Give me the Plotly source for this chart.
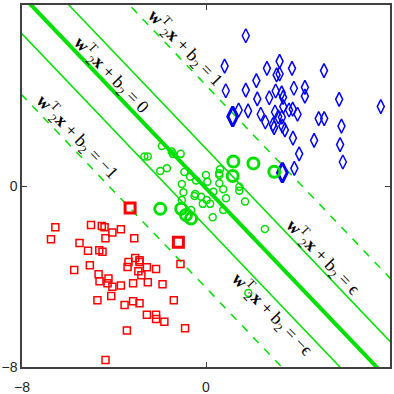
import plotly.graph_objects as go

# class 1 (red squares)
red_x = [-6.55, -5.0, -4.53, -4.41, -3.70, -6.74, -5.50, -4.37, -4.07, -3.12,
         -5.13, -4.64, -4.50, -5.05, -5.73, -3.37, -3.41, -3.08, -2.89, -2.89,
         -2.94, -2.81, -2.57, -2.17, -1.11, -4.67, -4.63, -4.24, -4.28, -4.07,
         -3.70, -3.17, -2.53, -1.89, -4.12, -4.72, -3.54, -3.17, -2.89, -1.40,
         -2.57, -2.17, -2.17, -1.81, -3.44, -0.91, -4.37]
red_y = [-1.82, -1.72, -1.77, -1.82, -1.91, -2.35, -2.52, -2.31, -2.06, -2.31,
         -2.86, -2.84, -2.91, -3.50, -3.71, -3.36, -3.58, -3.18, -3.36, -3.28,
         -3.77, -3.95, -3.59, -3.67, -3.45, -3.90, -4.21, -4.09, -4.30, -4.45,
         -4.40, -4.30, -4.25, -4.34, -4.86, -5.05, -5.26, -5.09, -5.18, -5.05,
         -5.69, -5.69, -5.88, -6.00, -6.39, -6.29, -7.69]
red_sv_x = [-3.30, -1.20]
red_sv_y = [-0.97, -2.49]

# class 2 (blue diamonds)
blue_x = [1.73, 0.81, 2.65, 3.20, 3.74, 3.07, 3.20, 5.13, 2.19, 0.86,
          1.73, 3.82, 4.30, 3.03, 3.29, 3.35, 2.23, 2.75, 4.30, 5.79,
          7.60, 1.42, 1.83, 2.38, 3.00, 3.36, 3.61, 3.77, 3.98, 3.14,
          3.30, 2.58, 2.91, 2.96, 3.32, 3.43, 4.90, 5.14, 5.89, 3.78,
          4.70, 5.83, 4.05, 5.95, 3.84]
blue_y = [6.64, 5.30, 5.20, 5.51, 5.20, 4.91, 4.95, 5.10, 4.66, 4.21,
          4.24, 4.32, 4.36, 4.20, 4.12, 3.92, 3.85, 3.90, 3.97, 3.83,
          3.51, 3.36, 3.32, 3.17, 3.27, 3.51, 3.36, 3.40, 3.17, 3.06,
          3.04, 2.83, 2.71, 2.58, 2.65, 2.48, 2.98, 2.98, 2.65, 2.12,
          2.02, 1.83, 1.42, 1.06, 0.78]
blue_sv_x = [1.16, 3.32]
blue_sv_y = [3.07, 0.59]

# class 3 (green circles)
green_x = [-2.68, -2.53, -1.92, -1.49, -1.44, -1.10, -1.99, -1.70, -0.94, -0.69,
           -0.43, 0.00, 0.06, -1.05, -0.98, -0.47, -0.50, -0.21, 0.03, -1.05,
           -0.14, 0.18, 0.29, -0.65, 0.61, 0.58, 0.58, 0.75, 1.45, 1.45,
           0.87, 0.32, 1.70, 0.75, 2.56, 0.57, 1.84]
green_y = [1.30, 1.30, 1.77, 1.52, 1.42, 1.42, 0.66, 0.78, 0.62, 0.41,
           0.24, 0.49, 0.19, 0.09, -0.28, -0.35, -0.44, -0.47, -0.62, -0.62,
           -0.79, -0.79, -1.38, -1.06, 0.74, 0.49, 0.12, -0.14, -0.03, -0.21,
           -0.54, -0.25, -0.69, -1.06, -1.90, 0.56, -4.73]
green_sv_x = [-1.99, -1.08, -0.87, -0.65, 1.19, 2.06, 2.97, 1.16]
green_sv_y = [-1.01, -1.01, -1.28, -1.44, 1.08, 1.00, 0.63, 0.44]

# lines y = slope*x + c
slope = -1.065
intercepts = [-4.50, -1.80, -0.10, 1.65, 4.45]
line_kind = ["dash", "solid", "thick", "solid", "dash"]

label_x = [-5.6, 2.87, -4.12, 5.13, -0.9]
label_y = [2.17, -5.65, 4.91, -3.14, 6.1]
label_rhs = ["−1", "−ϵ", "0", "ϵ", "1"]

GREEN = "#00E000"
fig = go.Figure()

xs = [-9, 9]
for c, kind in zip(intercepts, line_kind):
    ys = [slope * x + c for x in xs]
    if kind == "thick":
        ln = dict(color=GREEN, width=4)
    elif kind == "dash":
        ln = dict(color=GREEN, width=1.5, dash="8px,8px")
    else:
        ln = dict(color=GREEN, width=1.5)
    fig.add_trace(go.Scatter(x=xs, y=ys, mode="lines", line=ln, hoverinfo="skip"))

fig.add_trace(go.Scatter(x=red_x, y=red_y, mode="markers",
                         marker=dict(symbol="square-open", size=7, color="#FF0000", line=dict(width=1.5))))
fig.add_trace(go.Scatter(x=red_sv_x, y=red_sv_y, mode="markers",
                         marker=dict(symbol="square-open", size=10, color="#FF0000", line=dict(width=3))))
fig.add_trace(go.Scatter(x=blue_x, y=blue_y, mode="markers",
                         marker=dict(symbol="diamond-tall-open", size=10, color="#0000FF", line=dict(width=1.5))))
fig.add_trace(go.Scatter(x=blue_sv_x, y=blue_sv_y, mode="markers",
                         marker=dict(symbol="diamond-tall-open", size=14, color="#0000FF", line=dict(width=3))))
fig.add_trace(go.Scatter(x=green_x, y=green_y, mode="markers",
                         marker=dict(symbol="circle-open", size=7, color=GREEN, line=dict(width=1.5))))
fig.add_trace(go.Scatter(x=green_sv_x, y=green_sv_y, mode="markers",
                         marker=dict(symbol="circle-open", size=11, color=GREEN, line=dict(width=3))))

for lx, ly, rhs in zip(label_x, label_y, label_rhs):
    fig.add_annotation(x=lx, y=ly, showarrow=False, textangle=46,
                       text="<b>w</b><sup>T</sup><sub>2</sub><b>x</b> + b<sub>2</sub> = " + rhs,
                       font=dict(family="Liberation Serif", size=18, color="black"))

axis = dict(range=[-8, 8], tickvals=[-8, 0, 8], ticks="inside", ticklen=5,
            showgrid=False, zeroline=False, showline=True, mirror="ticks",
            linecolor="#404040", linewidth=1.5, tickcolor="#404040", automargin=False,
            tickfont=dict(family="Liberation Sans", size=14, color="#262626"))
fig.update_layout(width=394, height=394, showlegend=False,
                  plot_bgcolor="white", paper_bgcolor="white",
                  margin=dict(l=22, r=4, t=5, b=27),
                  xaxis=dict(axis, ticklabelstandoff=6), yaxis=axis)

# page body has a default 8px margin; drop it so the figure sits at the window corner
fig.write_html("out.html", config={"displayModeBar": False},
               post_script="document.body.style.margin='0';")
